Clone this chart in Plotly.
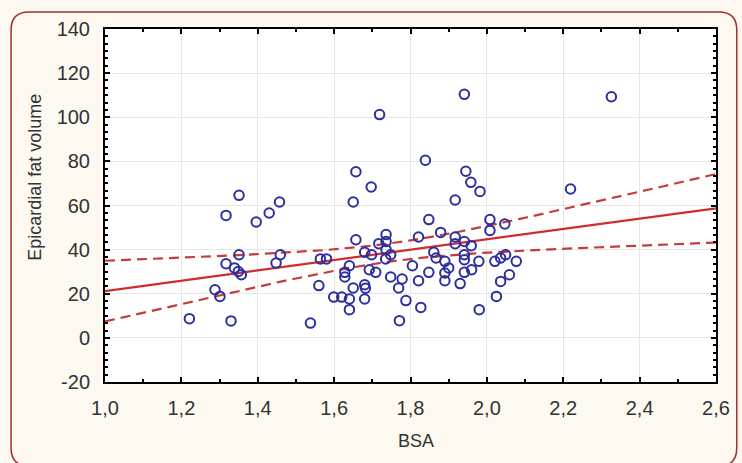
import numpy as np
import plotly.graph_objects as go

# ---- data ----
bsa = [1.719, 1.657, 1.697, 1.650, 1.351, 1.457, 1.430, 1.317, 1.396, 1.941,
       2.326, 1.839, 1.945, 1.958, 1.982, 1.917, 2.219, 1.657, 1.736, 1.736,
       1.717, 1.736, 1.748, 1.735, 1.680, 1.698, 1.692, 1.709, 1.640, 1.628,
       1.628, 1.650, 1.680, 1.682, 1.680, 1.640, 1.640, 1.599, 1.620, 1.560,
       1.564, 1.580, 1.538, 1.459, 1.448, 1.351, 1.317, 1.339, 1.349, 1.357,
       1.288, 1.301, 1.221, 1.330, 1.771, 1.769, 1.778, 1.748, 1.788, 1.805,
       1.848, 2.008, 2.008, 2.047, 1.821, 1.879, 1.917, 1.941, 1.917, 1.959,
       1.861, 1.867, 1.890, 1.900, 1.890, 1.890, 1.941, 1.941, 1.979, 1.960,
       1.941, 1.930, 2.021, 2.036, 2.049, 2.077, 2.059, 2.036, 2.025, 1.980,
       1.848, 1.821, 1.827]
efv = [101.2, 75.3, 68.4, 61.6, 64.6, 61.6, 56.6, 55.5, 52.5, 110.4,
       109.3, 80.5, 75.5, 70.5, 66.4, 62.5, 67.5, 44.5, 46.8, 43.7,
       42.7, 40.0, 37.7, 35.8, 38.8, 37.7, 30.9, 29.7, 32.7, 29.7,
       27.6, 22.6, 24.1, 22.5, 17.6, 17.6, 12.8, 18.5, 18.5, 23.7,
       35.8, 35.8, 6.7, 37.7, 33.9, 37.7, 33.6, 31.7, 30.1, 28.6,
       21.8, 18.8, 8.7, 7.7, 7.8, 22.6, 26.7, 27.6, 16.9, 32.7,
       53.6, 53.6, 48.7, 51.6, 45.7, 47.8, 45.7, 43.7, 42.7, 41.8,
       38.8, 36.2, 34.7, 31.7, 29.4, 25.9, 37.7, 35.4, 34.7, 30.9,
       29.7, 24.6, 34.7, 36.2, 37.7, 34.7, 28.6, 25.6, 18.8, 12.8,
       29.7, 25.9, 13.8]

x_ticks = [1.0, 1.2, 1.4, 1.6, 1.8, 2.0, 2.2, 2.4, 2.6]
x_ticktext = ["1,0", "1,2", "1,4", "1,6", "1,8", "2,0", "2,2", "2,4", "2,6"]
y_ticks = [-20, 0, 20, 40, 60, 80, 100, 120, 140]
y_ticktext = ["-20", "0", "20", "40", "60", "80", "100", "120", "140"]

# ---- linear regression with 95% confidence band ----
x = np.array(bsa)
y = np.array(efv)
n = len(x)
slope, intercept = np.polyfit(x, y, 1)
resid = y - (intercept + slope * x)
s = np.sqrt(np.sum(resid ** 2) / (n - 2))
xbar = x.mean()
sxx = np.sum((x - xbar) ** 2)
t_crit = 1.986
xf = np.linspace(1.0, 2.6, 161)
yf = intercept + slope * xf
hw = t_crit * s * np.sqrt(1.0 / n + (xf - xbar) ** 2 / sxx)

W, H = 742, 463
L, R, T, B = 105, 19, 29, 81
pw, ph = W - L - R, H - T - B

def px(xp):
    return (xp - L) / pw

def py(yp):
    return (H - B - yp) / ph

RED = "#d02c2c"
DRED = "#c43c3c"
BLUE = "#2c2f9c"

fig = go.Figure()
fig.add_trace(go.Scatter(x=xf, y=yf + hw, mode="lines",
                         line=dict(color=DRED, width=2.2, dash="10px,6px"),
                         hoverinfo="skip", showlegend=False))
fig.add_trace(go.Scatter(x=xf, y=yf - hw, mode="lines",
                         line=dict(color=DRED, width=2.2, dash="10px,6px"),
                         hoverinfo="skip", showlegend=False))
fig.add_trace(go.Scatter(x=xf, y=yf, mode="lines",
                         line=dict(color=RED, width=2.2),
                         hoverinfo="skip", showlegend=False))
fig.add_trace(go.Scatter(x=bsa, y=efv, mode="markers",
                         marker=dict(symbol="circle-open", size=9.5, color=BLUE,
                                     line=dict(width=2, color=BLUE)),
                         showlegend=False))

# rounded frame around the whole figure
x0, y0, x1, y1, r = 10, 12, 744, 466, 18
path = (f"M {px(x0 + r)},{py(y0)} L {px(x1 - r)},{py(y0)} "
        f"Q {px(x1)},{py(y0)} {px(x1)},{py(y0 + r)} "
        f"L {px(x1)},{py(y1 - r)} Q {px(x1)},{py(y1)} {px(x1 - r)},{py(y1)} "
        f"L {px(x0 + r)},{py(y1)} Q {px(x0)},{py(y1)} {px(x0)},{py(y1 - r)} "
        f"L {px(x0)},{py(y0 + r)} Q {px(x0)},{py(y0)} {px(x0 + r)},{py(y0)} Z")
fig.add_shape(type="path", path=path, xref="paper", yref="paper",
              line=dict(color="#a3302f", width=1.5), layer="below")

font_fam = "Liberation Sans, Arial, sans-serif"
axis_common = dict(showline=True, linecolor="black", linewidth=2, mirror="ticks",
                   ticks="inside", ticklen=5, tickwidth=1.5, tickcolor="black",
                   showgrid=True, gridcolor="#e6e6e6", gridwidth=1, zeroline=False,
                   tickfont=dict(family=font_fam, size=20, color="#333333"))
fig.update_xaxes(range=[1.0, 2.6], tickmode="array", tickvals=x_ticks,
                 ticktext=x_ticktext, ticklabelstandoff=7,
                 minor=dict(dtick=0.1, tick0=1.0, ticks="inside", ticklen=3,
                            tickcolor="black", showgrid=False),
                 **axis_common)
fig.update_yaxes(range=[-20, 140], tickmode="array", tickvals=y_ticks,
                 ticktext=y_ticktext, ticklabelstandoff=9,
                 minor=dict(dtick=20 / 6, tick0=-20, ticks="inside", ticklen=3,
                            tickcolor="black", showgrid=False),
                 **axis_common)

fig.add_annotation(text="Epicardial fat volume", xref="paper", yref="paper",
                   x=px(34), y=py(177), xanchor="center", yanchor="middle",
                   textangle=-90, showarrow=False,
                   font=dict(family=font_fam, size=18, color="#333333"))
fig.add_annotation(text="BSA", xref="paper", yref="paper",
                   x=px(420), y=py(441), xanchor="center", yanchor="middle",
                   showarrow=False,
                   font=dict(family=font_fam, size=18, color="#333333"))

fig.update_layout(width=W, height=H, margin=dict(l=L, r=R, t=T, b=B),
                  paper_bgcolor="#fdf8f0", plot_bgcolor="white",
                  showlegend=False)

fig.write_html("out.html", config={"displayModeBar": False},
               post_script="document.body.style.margin='0px';")
